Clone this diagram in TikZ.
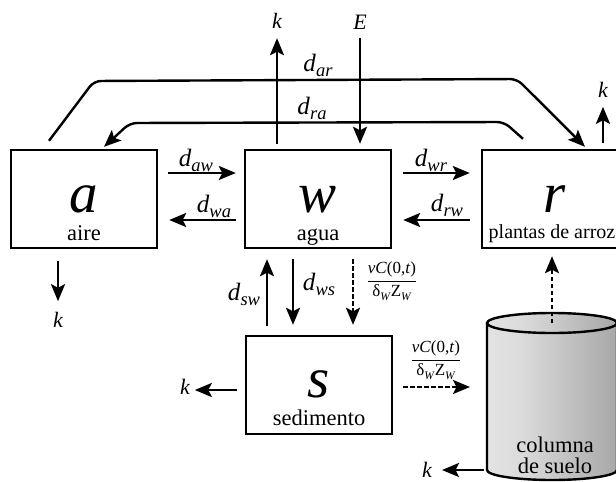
\documentclass[tikz,border=0pt]{standalone}
\usepackage{fontspec}
\setmainfont{Liberation Serif}
\usetikzlibrary{arrows.meta,calc}
\pgfdeclarehorizontalshading{cylshade}{100bp}{color(0bp)=(black!42); color(22bp)=(black!10); color(38bp)=(black!14); color(100bp)=(black!48)}
\newcommand\dsub[2]{\textit{#1}\raisebox{-0.2em}{\fontsize{18.5}{18.5}\selectfont\textit{#2}}}
\newcommand\smsub[1]{\raisebox{-0.2em}{\fontsize{11.5}{11.5}\selectfont\textit{#1}}}
\newcommand\myfrac{$\displaystyle\frac{\mbox{\textit{vC}(0,\textit{t})}}{\mbox{δ\smsub{W}Z\smsub{W}}}$}
\begin{document}
\begin{tikzpicture}[x=1pt,y=-1pt,
 box/.style={draw, line width=2.4pt, minimum width=146pt, minimum height=98pt, inner sep=0pt},
 big/.style={font=\fontsize{57}{60}\selectfont\itshape, anchor=base, inner sep=0pt},
 lbl/.style={font=\fontsize{22.5}{24}\selectfont, anchor=base, inner sep=0pt},
 dl/.style={font=\fontsize{25}{28}\selectfont, anchor=base, inner sep=0pt},
 kl/.style={font=\fontsize{22}{24}\selectfont\itshape, anchor=base, inner sep=0pt},
 ahead/.style={-{Stealth[length=17pt,width=14pt,inset=3.5pt]}},
 arr/.style={line width=2.4pt, ahead},
 darr/.style={arr, dash pattern=on 4.5pt off 2.5pt},
 fr/.style={font=\fontsize{17}{18}\selectfont, inner sep=0pt},
]
\useasboundingbox (0,0) rectangle (616,482);
\clip (0,0) rectangle (616,482);
\fill[white] (0,0) rectangle (616,482);

% boxes
\node[box] (a) at (84,199) {};
\node[box] (w) at (318,199) {};
\node[box] (r) at (555,199) {};
\node[box] (s) at (319,385) {};
\node[big] (aL) at (84,212) {a};
\node[lbl] (aT) at (84,240) {aire};
\node[big] (wL) at (318,212) {w};
\node[lbl] (wT) at (318,240) {agua};
\node[big] (rL) at (555,212) {r};
\node[lbl, font=\fontsize{20}{24}\selectfont] (rT) at (552,238) {plantas de arroz};
\node[big] (sL) at (319,397) {s};
\node[lbl] (sT) at (319,425) {sedimento};

% cylinder
\coordinate (cyltop) at (552,323);
\coordinate (cyl) at (552,396);
\shade[shading=cylshade] (487,323) -- (487,470) arc[start angle=180,end angle=360,x radius=65pt,y radius=10pt] -- (617,323) -- cycle;
\draw[line width=2.4pt] (487,323) -- (487,470) arc[start angle=180,end angle=360,x radius=65pt,y radius=10pt] -- (617,323);
\shade[shading=cylshade] (cyltop) ellipse[x radius=65pt,y radius=10pt];
\draw[line width=2.4pt] (cyltop) ellipse[x radius=65pt,y radius=10pt];
\node[lbl] (c1) at (555,452) {columna};
\node[lbl] (c2) at (555,473) {de suelo};

% horizontal exchanges
\draw[arr] ($(a.east)+(10,-26)$) -- ($(w.west)+(-8,-26)$);
\node[dl] (daw) at (196,166) {\dsub{d}{aw}};
\draw[arr] ($(w.west)+(-8,21)$) -- ($(a.east)+(11,21)$);
\node[dl] (dwa) at (214,212) {\dsub{d}{wa}};
\draw[arr] ($(w.east)+(11,-26)$) -- ($(r.west)+(-11,-26)$);
\node[dl] (dwr) at (431,166) {\dsub{d}{wr}};
\draw[arr] ($(r.west)+(-11,21)$) -- ($(w.east)+(11,21)$);
\node[dl] (drw) at (447,211) {\dsub{d}{rw}};

% top
\node[kl] (kw) at (277,28) {k};
\draw[arr] ($(w.north)+(-41,-5)$) -- ($(kw.south)+(0,10)$);
\node[kl] (E) at (360,29) {E};
\draw[arr] ($(E.south)+(0,9)$) -- ($(w.north)+(42,-5)$);

% long connectors
\draw[line width=2.4pt, rounded corners=7pt, ahead]
  ($(a.north)+(-35,-8)$) -- (94,81) -- (517,79) -- ($(r.north)+(30,-2)$);
\node[dl] (dar) at (318,71) {\dsub{d}{ar}};
\draw[line width=2.4pt, rounded corners=7pt, ahead]
  ($(r.north)+(-32,-10)$) -- (504,122) -- (130,123) -- ($(a.north)+(20,-2)$);
\node[dl] (dra) at (312,114) {\dsub{d}{ra}};

% k from r
\node[kl] (kr) at (603,97) {k};
\draw[arr] ($(r.north)+(48,-6)$) -- ($(r.north)+(48,-42)$);
% k from a
\draw[arr] ($(a.south)+(-26,12)$) -- ($(a.south)+(-26,52)$);
\node[kl] (ka) at (58,327) {k};

% water - sediment
\draw[arr] ($(s.north)+(-52,-9)$) -- ($(w.south)+(-51,10)$);
\node[dl] (dsw) at (244,300) {\dsub{d}{sw}};
\draw[arr] ($(w.south)+(-25,10)$) -- ($(s.north)+(-26,-10)$);
\node[dl] (dws) at (319,290) {\dsub{d}{ws}};
\draw[darr] ($(w.south)+(35,10)$) -- ($(s.north)+(34,-10)$);
\node[fr] (f1) at (392,281) {\myfrac};

% sediment outputs
\draw[arr] ($(s.west)+(-8,5)$) -- ($(s.west)+(-50,5)$);
\node[kl] (ks) at (185,394) {k};
\draw[darr] ($(s.east)+(10,2)$) -- ($(s.east -| cyl)+(-82,2)$);
\node[fr] (f2) at (436,360) {\myfrac};

% cylinder outputs
\draw[darr] (cyltop) -- ($(cyltop |- r.south)+(0,7)$);
\draw[arr] (484,470) -- (442,470);
\node[kl] (kc) at (427,477) {k};
\end{tikzpicture}
\end{document}
